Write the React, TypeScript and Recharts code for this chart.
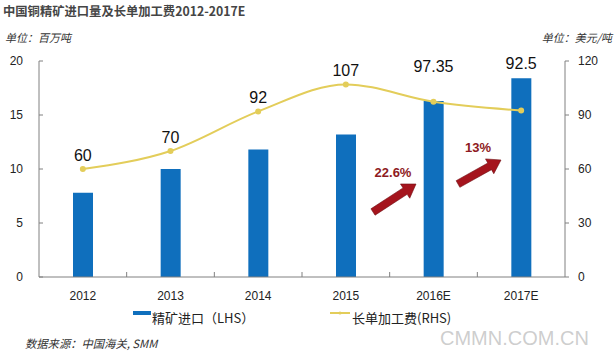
import React from "react";
import { ComposedChart, Bar, Line, XAxis, YAxis, LabelList } from "recharts";

const categories = ["2012", "2013", "2014", "2015", "2016E", "2017E"];
const concentrateImports = [7.8, 10.0, 11.8, 13.2, 16.3, 18.4];
const tcFees = [60, 70, 92, 107, 97.35, 92.5];
const tcLabels = ["60", "70", "92", "107", "97.35", "92.5"];
const leftTicks = [0, 5, 10, 15, 20];
const rightTicks = [0, 30, 60, 90, 120];
const growthNotes = ["22.6%", "13%"];

const data = categories.map((c, i) => ({
  year: c,
  imports: concentrateImports[i],
  fee: tcFees[i],
  feeLabel: tcLabels[i],
}));

const W = 616;
const H = 354;
const LEFT_W = 39;
const RIGHT_W = 51;
const PLOT_W = W - LEFT_W - RIGHT_W;
const BAND = PLOT_W / categories.length;
const FONT = "'Liberation Sans', Arial, 'Noto Sans CJK SC', sans-serif";
const CJK = "'Noto Sans CJK SC', 'Liberation Sans', sans-serif";
const BLUE = "#0F6FBD";
const YELLOW = "#E3CD5A";
const AXIS = "#808080";
const RED = "#A5141D";

const labelLift = [14, 14, 14, 14, 35, 47];

const XTick = (props: any) => {
  const { x, y, payload, index } = props;
  return (
    <g>
      {index < categories.length - 1 && (
        <line x1={x + BAND / 2} x2={x + BAND / 2} y1={y} y2={y - 5} stroke={AXIS} />
      )}
      <text
        x={x}
        y={y + 19}
        textAnchor="middle"
        dominantBaseline="central"
        fontFamily={FONT}
        fontSize={12}
        fill="#222"
      >
        {payload.value}
      </text>
    </g>
  );
};

const FeeLabel = (props: any) => {
  const { x, y, value, index } = props;
  return (
    <text
      x={x}
      y={y - labelLift[index]}
      textAnchor="middle"
      dominantBaseline="central"
      fontFamily={FONT}
      fontSize={16}
      fill="#111"
    >
      {value}
    </text>
  );
};

function arrowPoints(x1: number, y1: number, x2: number, y2: number) {
  const dx = x2 - x1;
  const dy = y2 - y1;
  const len = Math.sqrt(dx * dx + dy * dy);
  const ux = dx / len;
  const uy = dy / len;
  const nx = -uy;
  const ny = ux;
  const bw = 3.8;
  const hw = 8.5;
  const hl = 13;
  const bx = x2 - ux * hl;
  const by = y2 - uy * hl;
  const pts = [
    [x1 + nx * bw, y1 + ny * bw],
    [bx + nx * bw, by + ny * bw],
    [bx + nx * hw, by + ny * hw],
    [x2, y2],
    [bx - nx * hw, by - ny * hw],
    [bx - nx * bw, by - ny * bw],
    [x1 - nx * bw, y1 - ny * bw],
  ];
  return pts.map((p) => p.join(",")).join(" ");
}

export default function App() {
  return (
    <div style={{ position: "absolute", left: 0, top: 0, width: W, height: H, background: "#fff" }}>
      <ComposedChart
        width={W}
        height={H}
        data={data}
        margin={{ top: 61, right: 0, bottom: 47, left: 0 }}
      >
        <XAxis
          dataKey="year"
          height={30}
          tickLine={false}
          tickSize={0}
          tickMargin={0}
          axisLine={{ stroke: AXIS }}
          tick={<XTick />}
          interval={0}
        />
        <YAxis
          yAxisId="left"
          width={LEFT_W}
          domain={[0, 20]}
          ticks={leftTicks}
          tickSize={-4}
          tickMargin={20}
          axisLine={{ stroke: AXIS }}
          tickLine={{ stroke: AXIS }}
          tick={{ fontFamily: FONT, fontSize: 12, fill: "#222" }}
        />
        <YAxis
          yAxisId="right"
          orientation="right"
          width={RIGHT_W}
          domain={[0, 120]}
          ticks={rightTicks}
          tickSize={4}
          tickMargin={9}
          axisLine={{ stroke: AXIS }}
          tickLine={{ stroke: AXIS }}
          tick={{ fontFamily: FONT, fontSize: 12, fill: "#222" }}
        />
        <Bar
          yAxisId="left"
          dataKey="imports"
          fill={BLUE}
          barSize={20}
          isAnimationActive={false}
        />
        <Line
          yAxisId="right"
          dataKey="fee"
          type="monotone"
          stroke={YELLOW}
          strokeWidth={2}
          dot={{ r: 2, fill: YELLOW, stroke: YELLOW }}
          isAnimationActive={false}
        >
          <LabelList dataKey="feeLabel" content={<FeeLabel />} />
        </Line>
      </ComposedChart>
      <svg
        width={W}
        height={H}
        style={{ position: "absolute", left: 0, top: 0, pointerEvents: "none" }}
      >
        <text x={3} y={11} dominantBaseline="central" fontFamily={CJK} fontWeight="bold" fontSize={12.3} fill="#454545">
          中国铜精矿进口量及长单加工费2012-2017E
        </text>
        <text x={5} y={37} dominantBaseline="central" fontFamily={CJK} fontStyle="italic" fontSize={11} fill="#333">
          单位：百万吨
        </text>
        <text x={612} y={37} textAnchor="end" dominantBaseline="central" fontFamily={CJK} fontStyle="italic" fontSize={11} fill="#333">
          单位：美元/吨
        </text>
        <polygon points={arrowPoints(373, 212, 416, 184)} fill={RED} stroke="#6e0d12" strokeWidth={0.6} />
        <polygon points={arrowPoints(458, 184, 501, 160)} fill={RED} stroke="#6e0d12" strokeWidth={0.6} />
        <text x={393} y={172} textAnchor="middle" dominantBaseline="central" fontFamily={FONT} fontWeight="bold" fontSize={13} fill="#8E1A22">
          {growthNotes[0]}
        </text>
        <text x={478} y={147} textAnchor="middle" dominantBaseline="central" fontFamily={FONT} fontWeight="bold" fontSize={13} fill="#8E1A22">
          {growthNotes[1]}
        </text>
        <rect x={133} y={311} width={18} height={4} fill={BLUE} />
        <text x={152} y={317} dominantBaseline="central" fontFamily={CJK} fontSize={13} fill="#222">
          精矿进口（LHS）
        </text>
        <line x1={330} x2={350} y1={313} y2={313} stroke={YELLOW} strokeWidth={2} />
        <circle cx={340} cy={313} r={1.5} fill={YELLOW} />
        <text x={352} y={317} dominantBaseline="central" fontFamily={CJK} fontSize={13} fill="#222">
          长单加工费(RHS)
        </text>
        <text x={440} y={338} dominantBaseline="central" fontFamily={FONT} fontSize={20} fill="#b8b8b8" fillOpacity={0.7}>
          CMMN.COM.CN
        </text>
        <text x={25} y={343} dominantBaseline="central" fontFamily={CJK} fontStyle="italic" fontSize={11.3} fill="#333">
          数据来源：中国海关, SMM
        </text>
      </svg>
    </div>
  );
}
